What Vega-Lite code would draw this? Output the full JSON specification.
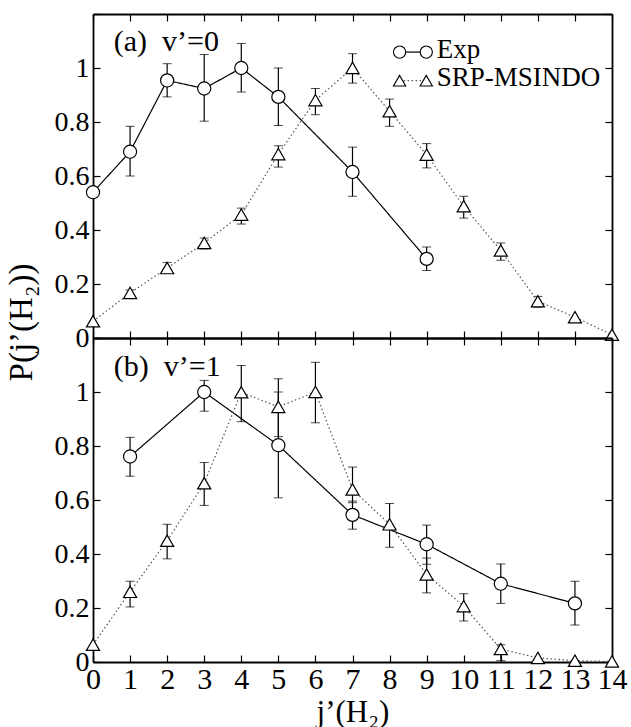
{
  "$schema": "https://vega.github.io/schema/vega-lite/v6.json",
  "background": "white",
  "padding": {"left": 5, "top": 13, "right": 10, "bottom": 0},
  "bounds": "flush",
  "spacing": 0,
  "datasets": {
    "pts": [
      {"panel": "a", "series": "Exp", "j": 0, "p": 0.54},
      {"panel": "a", "series": "Exp", "j": 1, "p": 0.69, "lo": 0.6, "hi": 0.784},
      {"panel": "a", "series": "Exp", "j": 2, "p": 0.954, "lo": 0.893, "hi": 1.016},
      {"panel": "a", "series": "Exp", "j": 3, "p": 0.924, "lo": 0.803, "hi": 1.05},
      {"panel": "a", "series": "Exp", "j": 4, "p": 1.0, "lo": 0.911, "hi": 1.091},
      {"panel": "a", "series": "Exp", "j": 5, "p": 0.893, "lo": 0.787, "hi": 1.0},
      {"panel": "a", "series": "Exp", "j": 7, "p": 0.615, "lo": 0.525, "hi": 0.707},
      {"panel": "a", "series": "Exp", "j": 9, "p": 0.293, "lo": 0.25, "hi": 0.337},
      {"panel": "a", "series": "SRP-MSINDO", "j": 0, "p": 0.062},
      {"panel": "a", "series": "SRP-MSINDO", "j": 1, "p": 0.167, "lo": 0.157, "hi": 0.178},
      {"panel": "a", "series": "SRP-MSINDO", "j": 2, "p": 0.259, "lo": 0.245, "hi": 0.28},
      {"panel": "a", "series": "SRP-MSINDO", "j": 3, "p": 0.352, "lo": 0.33, "hi": 0.37},
      {"panel": "a", "series": "SRP-MSINDO", "j": 4, "p": 0.457, "lo": 0.422, "hi": 0.481},
      {"panel": "a", "series": "SRP-MSINDO", "j": 5, "p": 0.681, "lo": 0.633, "hi": 0.712},
      {"panel": "a", "series": "SRP-MSINDO", "j": 6, "p": 0.881, "lo": 0.827, "hi": 0.924},
      {"panel": "a", "series": "SRP-MSINDO", "j": 7, "p": 1.0, "lo": 0.944, "hi": 1.053},
      {"panel": "a", "series": "SRP-MSINDO", "j": 8, "p": 0.84, "lo": 0.784, "hi": 0.885},
      {"panel": "a", "series": "SRP-MSINDO", "j": 9, "p": 0.679, "lo": 0.63, "hi": 0.72},
      {"panel": "a", "series": "SRP-MSINDO", "j": 10, "p": 0.488, "lo": 0.444, "hi": 0.525},
      {"panel": "a", "series": "SRP-MSINDO", "j": 11, "p": 0.324, "lo": 0.288, "hi": 0.352},
      {"panel": "a", "series": "SRP-MSINDO", "j": 12, "p": 0.136, "lo": 0.114, "hi": 0.154},
      {"panel": "a", "series": "SRP-MSINDO", "j": 13, "p": 0.077},
      {"panel": "a", "series": "SRP-MSINDO", "j": 14, "p": 0.012},
      {"panel": "b", "series": "Exp", "j": 1, "p": 0.761, "lo": 0.688, "hi": 0.832},
      {"panel": "b", "series": "Exp", "j": 3, "p": 1.0, "lo": 0.929, "hi": 1.043},
      {"panel": "b", "series": "Exp", "j": 5, "p": 0.803, "lo": 0.608, "hi": 1.0},
      {"panel": "b", "series": "Exp", "j": 7, "p": 0.545, "lo": 0.492, "hi": 0.596},
      {"panel": "b", "series": "Exp", "j": 9, "p": 0.436, "lo": 0.362, "hi": 0.507},
      {"panel": "b", "series": "Exp", "j": 11, "p": 0.29, "lo": 0.217, "hi": 0.363},
      {"panel": "b", "series": "Exp", "j": 13, "p": 0.217, "lo": 0.137, "hi": 0.299},
      {"panel": "b", "series": "SRP-MSINDO", "j": 0, "p": 0.064},
      {"panel": "b", "series": "SRP-MSINDO", "j": 1, "p": 0.26, "lo": 0.204, "hi": 0.299},
      {"panel": "b", "series": "SRP-MSINDO", "j": 2, "p": 0.449, "lo": 0.382, "hi": 0.51},
      {"panel": "b", "series": "SRP-MSINDO", "j": 3, "p": 0.662, "lo": 0.58, "hi": 0.739},
      {"panel": "b", "series": "SRP-MSINDO", "j": 4, "p": 0.999, "lo": 0.89, "hi": 1.098},
      {"panel": "b", "series": "SRP-MSINDO", "j": 5, "p": 0.945, "lo": 0.835, "hi": 1.049},
      {"panel": "b", "series": "SRP-MSINDO", "j": 6, "p": 1.0, "lo": 0.886, "hi": 1.11},
      {"panel": "b", "series": "SRP-MSINDO", "j": 7, "p": 0.639, "lo": 0.59, "hi": 0.722},
      {"panel": "b", "series": "SRP-MSINDO", "j": 8, "p": 0.51, "lo": 0.425, "hi": 0.587},
      {"panel": "b", "series": "SRP-MSINDO", "j": 9, "p": 0.324, "lo": 0.256, "hi": 0.385},
      {"panel": "b", "series": "SRP-MSINDO", "j": 10, "p": 0.207, "lo": 0.152, "hi": 0.253},
      {"panel": "b", "series": "SRP-MSINDO", "j": 11, "p": 0.048, "lo": 0.005, "hi": 0.064},
      {"panel": "b", "series": "SRP-MSINDO", "j": 12, "p": 0.015},
      {"panel": "b", "series": "SRP-MSINDO", "j": 13, "p": 0.005},
      {"panel": "b", "series": "SRP-MSINDO", "j": 14, "p": 0.002}
    ],
    "labels": [
      {"panel": "a", "text": "(a)\u2002v’=0"},
      {"panel": "b", "text": "(b)\u2002v’=1"}
    ],
    "one": [{}]
  },
  "vconcat": [
    {
      "width": 519,
      "height": 324,
      "layer": [
        {
          "layer": [
            {
              "data": {"name": "pts"},
              "transform": [{"filter": "datum.panel === 'a' && isValid(datum.lo)"}],
              "mark": {"type": "errorbar", "ticks": {"size": 9, "color": "black", "strokeWidth": 1.2}, "rule": {"color": "black", "strokeWidth": 1.2}},
              "encoding": {
                "x": {"field": "j", "type": "quantitative", "scale": {"domain": [0, 14], "nice": false, "zero": false},
                  "axis": {"orient": "bottom", "values": [0,1,2,3,4,5,6,7,8,9,10,11,12,13,14], "tickCount": 15, "labels": false, "title": null}},
                "y": {"field": "lo", "type": "quantitative", "scale": {"domain": [0, 1.2], "nice": false},
                  "axis": {"orient": "left", "values": [0,0.1,0.2,0.3,0.4,0.5,0.6,0.7,0.8,0.9,1,1.1,1.2], "tickCount": 12,
                    "labelExpr": "(round(datum.value*10) % 2 === 0 && datum.value < 1.15) ? format(datum.value, '.1~f') : ''",
                    "labelFontSize": 28, "labelPadding": 11,
                    "title": "P(j’(H₂))", "titleFontSize": 33, "titleAngle": -90, "titleAlign": "center", "titleBaseline": "alphabetic", "titleX": -62, "titleY": 308}},
                "y2": {"field": "hi"},
                "detail": {"field": "series"}
              }
            },
            {
              "data": {"name": "pts"},
              "transform": [{"filter": "datum.panel === 'a'"}],
              "mark": {"type": "line", "strokeWidth": 1.2},
              "encoding": {
                "x": {"field": "j", "type": "quantitative"},
                "y": {"field": "p", "type": "quantitative"},
                "color": {"field": "series", "type": "nominal", "scale": {"domain": ["Exp", "SRP-MSINDO"], "range": ["black", "#555555"]}, "legend": null},
                "strokeDash": {"field": "series", "type": "nominal", "scale": {"domain": ["Exp", "SRP-MSINDO"], "range": [[1, 0], [1.5, 2.5]]}, "legend": null}
              }
            },
            {
              "data": {"name": "pts"},
              "transform": [{"filter": "datum.panel === 'a'"}],
              "mark": {"type": "point", "filled": true, "fill": "white", "stroke": "black", "strokeWidth": 1.2, "size": 172, "opacity": 1},
              "encoding": {
                "x": {"field": "j", "type": "quantitative"},
                "y": {"field": "p", "type": "quantitative"},
                "shape": {"field": "series", "type": "nominal", "scale": {"domain": ["Exp", "SRP-MSINDO"], "range": ["circle", "triangle-up"]}, "legend": null}
              }
            },
            {
              "data": {"name": "labels"},
              "transform": [{"filter": "datum.panel === 'a'"}],
              "mark": {"type": "text", "font": "Liberation Serif", "fontSize": 30, "align": "left", "baseline": "alphabetic", "color": "black"},
              "encoding": {
                "x": {"datum": 0.56, "type": "quantitative"},
                "y": {"datum": 1.062, "type": "quantitative"},
                "text": {"field": "text"}
              }
            },
            {
              "data": {"name": "one"},
              "mark": {"type": "rule", "color": "black", "strokeWidth": 1.2},
              "encoding": {"x": {"datum": 8.27, "type": "quantitative"}, "x2": {"datum": 8.99}, "y": {"datum": 1.059, "type": "quantitative"}}
            },
            {
              "data": {"name": "one"},
              "mark": {"type": "rule", "color": "#555555", "strokeWidth": 1.2, "strokeDash": [1.5, 2.5]},
              "encoding": {"x": {"datum": 8.27, "type": "quantitative"}, "x2": {"datum": 8.99}, "y": {"datum": 0.953, "type": "quantitative"}}
            },
            {
              "data": {"name": "one"},
              "mark": {"type": "point", "shape": "circle", "filled": true, "fill": "white", "stroke": "black", "strokeWidth": 1.1, "size": 150, "opacity": 1},
              "encoding": {"x": {"datum": 8.27, "type": "quantitative"}, "y": {"datum": 1.059, "type": "quantitative"}}
            },
            {
              "data": {"name": "one"},
              "mark": {"type": "point", "shape": "circle", "filled": true, "fill": "white", "stroke": "black", "strokeWidth": 1.1, "size": 150, "opacity": 1},
              "encoding": {"x": {"datum": 8.99, "type": "quantitative"}, "y": {"datum": 1.059, "type": "quantitative"}}
            },
            {
              "data": {"name": "one"},
              "mark": {"type": "point", "shape": "triangle-up", "filled": true, "fill": "white", "stroke": "black", "strokeWidth": 1.1, "size": 150, "opacity": 1},
              "encoding": {"x": {"datum": 8.27, "type": "quantitative"}, "y": {"datum": 0.953, "type": "quantitative"}}
            },
            {
              "data": {"name": "one"},
              "mark": {"type": "point", "shape": "triangle-up", "filled": true, "fill": "white", "stroke": "black", "strokeWidth": 1.1, "size": 150, "opacity": 1},
              "encoding": {"x": {"datum": 8.99, "type": "quantitative"}, "y": {"datum": 0.953, "type": "quantitative"}}
            },
            {
              "data": {"name": "one"},
              "mark": {"type": "text", "text": "Exp", "font": "Liberation Serif", "fontSize": 27, "align": "left", "baseline": "alphabetic", "color": "black"},
              "encoding": {"x": {"datum": 9.27, "type": "quantitative"}, "y": {"datum": 1.037, "type": "quantitative"}}
            },
            {
              "data": {"name": "one"},
              "mark": {"type": "text", "text": "SRP-MSINDO", "font": "Liberation Serif", "fontSize": 27, "align": "left", "baseline": "alphabetic", "color": "black"},
              "encoding": {"x": {"datum": 9.27, "type": "quantitative"}, "y": {"datum": 0.932, "type": "quantitative"}}
            }
          ]
        },
        {
          "data": {"name": "pts"},
          "transform": [{"filter": "datum.panel === 'a'"}],
          "mark": {"type": "point", "opacity": 0},
          "encoding": {
            "x": {"field": "j", "type": "quantitative", "axis": {"orient": "top", "values": [0,1,2,3,4,5,6,7,8,9,10,11,12,13,14], "tickCount": 15, "labels": false, "title": null}},
            "y": {"field": "p", "type": "quantitative", "axis": {"orient": "right", "values": [0,0.1,0.2,0.3,0.4,0.5,0.6,0.7,0.8,0.9,1,1.1,1.2], "tickCount": 12, "labels": false, "title": null}}
          }
        }
      ],
      "resolve": {"axis": {"x": "independent", "y": "independent"}}
    },
    {
      "width": 519,
      "height": 324,
      "layer": [
        {
          "layer": [
            {
              "data": {"name": "pts"},
              "transform": [{"filter": "datum.panel === 'b'"}],
              "mark": {"type": "line", "strokeWidth": 1.2},
              "encoding": {
                "x": {"field": "j", "type": "quantitative", "scale": {"domain": [0, 14], "nice": false, "zero": false},
                  "axis": {"orient": "bottom", "values": [0,1,2,3,4,5,6,7,8,9,10,11,12,13,14], "tickCount": 15, "labelFontSize": 30, "labelPadding": 9,
                    "labelOverlap": false, "labelFlush": false, "labelBound": false,
                    "title": "j’(H₂)", "titleFontSize": 31, "titleBaseline": "alphabetic", "titleY": 59}},
                "y": {"field": "p", "type": "quantitative", "scale": {"domain": [0, 1.2], "nice": false},
                  "axis": {"orient": "left", "values": [0,0.1,0.2,0.3,0.4,0.5,0.6,0.7,0.8,0.9,1,1.1,1.2], "tickCount": 12,
                    "labelExpr": "(round(datum.value*10) % 2 === 0 && datum.value < 1.15) ? format(datum.value, '.1~f') : ''",
                    "labelFontSize": 28, "labelPadding": 11, "title": null}},
                "color": {"field": "series", "type": "nominal", "scale": {"domain": ["Exp", "SRP-MSINDO"], "range": ["black", "#555555"]}, "legend": null},
                "strokeDash": {"field": "series", "type": "nominal", "scale": {"domain": ["Exp", "SRP-MSINDO"], "range": [[1, 0], [1.5, 2.5]]}, "legend": null}
              }
            },
            {
              "data": {"name": "pts"},
              "transform": [{"filter": "datum.panel === 'b' && isValid(datum.lo)"}],
              "mark": {"type": "errorbar", "ticks": {"size": 9, "color": "black", "strokeWidth": 1.2}, "rule": {"color": "black", "strokeWidth": 1.2}},
              "encoding": {
                "x": {"field": "j", "type": "quantitative"},
                "y": {"field": "lo", "type": "quantitative", "title": null},
                "y2": {"field": "hi"},
                "detail": {"field": "series"}
              }
            },
            {
              "data": {"name": "pts"},
              "transform": [{"filter": "datum.panel === 'b'"}],
              "mark": {"type": "point", "filled": true, "fill": "white", "stroke": "black", "strokeWidth": 1.2, "size": 172, "opacity": 1},
              "encoding": {
                "x": {"field": "j", "type": "quantitative"},
                "y": {"field": "p", "type": "quantitative"},
                "shape": {"field": "series", "type": "nominal", "scale": {"domain": ["Exp", "SRP-MSINDO"], "range": ["circle", "triangle-up"]}, "legend": null}
              }
            },
            {
              "data": {"name": "labels"},
              "transform": [{"filter": "datum.panel === 'b'"}],
              "mark": {"type": "text", "font": "Liberation Serif", "fontSize": 30, "align": "left", "baseline": "alphabetic", "color": "black"},
              "encoding": {
                "x": {"datum": 0.56, "type": "quantitative"},
                "y": {"datum": 1.061, "type": "quantitative"},
                "text": {"field": "text"}
              }
            }
          ]
        },
        {
          "data": {"name": "pts"},
          "transform": [{"filter": "datum.panel === 'b'"}],
          "mark": {"type": "point", "opacity": 0},
          "encoding": {
            "x": {"field": "j", "type": "quantitative", "axis": {"orient": "top", "values": [0,1,2,3,4,5,6,7,8,9,10,11,12,13,14], "tickCount": 15, "labels": false, "title": null}},
            "y": {"field": "p", "type": "quantitative", "axis": {"orient": "right", "values": [0,0.1,0.2,0.3,0.4,0.5,0.6,0.7,0.8,0.9,1,1.1,1.2], "tickCount": 12, "labels": false, "title": null}}
          }
        }
      ],
      "resolve": {"axis": {"x": "independent", "y": "independent"}}
    }
  ],
  "config": {
    "view": {"stroke": null},
    "font": "Liberation Serif",
    "axis": {
      "domainColor": "black", "domainWidth": 1.8, "tickColor": "black", "tickWidth": 1.2, "tickSize": -7,
      "grid": false, "labelFont": "Liberation Serif", "labelColor": "black",
      "titleFont": "Liberation Serif", "titleColor": "black", "titleFontWeight": "normal"
    }
  }
}
